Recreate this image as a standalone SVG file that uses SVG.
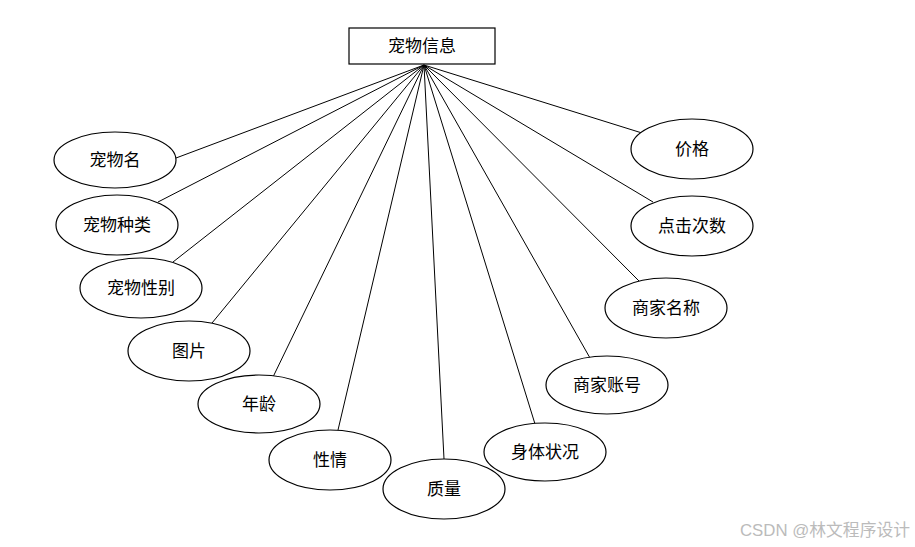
<svg xmlns="http://www.w3.org/2000/svg" width="915" height="547" viewBox="0 0 915 547">
<style>
.n ellipse,.n rect{fill:#fff;stroke:#000;stroke-width:1.2}
.t{font-family:"Liberation Serif","Noto Sans CJK SC",serif;font-size:17px;fill:#000;text-anchor:middle;dominant-baseline:central}
#edges line{stroke:#000;stroke-width:1}
.wm{font-family:"Liberation Sans","Noto Sans CJK SC",sans-serif;font-size:16.5px;fill:#bbb}
</style>
<rect width="915" height="547" fill="#fff"/>
<g id="edges">
<line x1="424" y1="65" x2="176" y2="158"/>
<line x1="424" y1="65" x2="158" y2="202"/>
<line x1="424" y1="65" x2="173" y2="262"/>
<line x1="424" y1="65" x2="212" y2="323"/>
<line x1="424" y1="65" x2="273" y2="377"/>
<line x1="424" y1="65" x2="338" y2="430"/>
<line x1="424" y1="65" x2="444" y2="459"/>
<line x1="424" y1="65" x2="535" y2="424"/>
<line x1="424" y1="65" x2="590" y2="358"/>
<line x1="424" y1="65" x2="639" y2="281"/>
<line x1="424" y1="65" x2="653" y2="202"/>
<line x1="424" y1="65" x2="642" y2="133"/>
</g>
<g id="pet" class="n"><rect x="349" y="28" width="146" height="36"/><text class="t" x="422" y="46">宠物信息</text></g>
<g id="n1" class="n"><ellipse cx="115" cy="160" rx="61" ry="28"/><text class="t" x="115" y="160">宠物名</text></g>
<g id="n2" class="n"><ellipse cx="117" cy="225" rx="61" ry="30"/><text class="t" x="117" y="225">宠物种类</text></g>
<g id="n3" class="n"><ellipse cx="141" cy="288" rx="61" ry="30"/><text class="t" x="141" y="288">宠物性别</text></g>
<g id="n4" class="n"><ellipse cx="189" cy="351" rx="61" ry="30"/><text class="t" x="189" y="351">图片</text></g>
<g id="n5" class="n"><ellipse cx="259" cy="404" rx="61" ry="29"/><text class="t" x="259" y="404">年龄</text></g>
<g id="n6" class="n"><ellipse cx="330" cy="460" rx="61" ry="30"/><text class="t" x="330" y="460">性情</text></g>
<g id="n7" class="n"><ellipse cx="444" cy="489" rx="61" ry="30"/><text class="t" x="444" y="489">质量</text></g>
<g id="n8" class="n"><ellipse cx="545" cy="452" rx="61" ry="29"/><text class="t" x="545" y="452">身体状况</text></g>
<g id="n9" class="n"><ellipse cx="607" cy="385" rx="61" ry="29"/><text class="t" x="607" y="385">商家账号</text></g>
<g id="n10" class="n"><ellipse cx="666" cy="308" rx="61" ry="30"/><text class="t" x="666" y="308">商家名称</text></g>
<g id="n11" class="n"><ellipse cx="692" cy="226" rx="61" ry="30"/><text class="t" x="692" y="226">点击次数</text></g>
<g id="n12" class="n"><ellipse cx="692" cy="149" rx="61" ry="30"/><text class="t" x="692" y="149">价格</text></g>
<text class="wm" x="740" y="536" textLength="170" lengthAdjust="spacingAndGlyphs">CSDN @林文程序设计</text>
</svg>
